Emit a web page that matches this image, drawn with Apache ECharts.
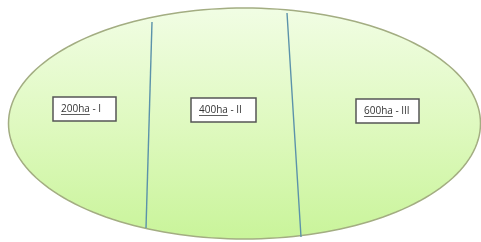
<html>
<head>
    <meta http-equiv="content-type" content="text/html; charset=utf-8">
    <title>Field plots</title>
    <script src="https://cdn.jsdelivr.net/npm/echarts@6/dist/echarts.min.js"></script>
    <style>
        html, body { margin: 0; padding: 0; background: #fff; }
        #chart { width: 481px; height: 242px; }
    </style>
</head>
<body>
    <div id="chart"></div>
    <script type="text/javascript">
        // field outline (page units, y downwards)
        var fieldCenter = [244.5, 123.5];
        var fieldRadius = [236, 115.5];

        // the two boundary lines between the plots
        var dividerTop = [[152, 22], [287, 13]];
        var dividerBottom = [[146, 228], [301, 237]];

        // plot labels
        var areas = ['200ha', '400ha', '600ha'];
        var plotNames = ['I', 'II', 'III'];
        var boxTopLeft = [[53, 97], [191, 98], [356, 99]];
        var boxBottomRight = [[116, 121], [256, 122], [419, 123]];

        var FONT = '10px "Open Sans", sans-serif';
        var ctx = document.createElement('canvas').getContext('2d');
        ctx.font = FONT;

        var chart = echarts.init(document.getElementById('chart'));

        var dividerSeries = dividerTop.map(function (p, i) {
            return {
                type: 'line',
                data: [p, dividerBottom[i]],
                symbol: 'none',
                silent: true,
                z: 3,
                lineStyle: { color: '#5b92aa', width: 1.4 }
            };
        });

        chart.setOption({
            animation: false,
            grid: { left: 0, right: 0, top: 0, bottom: 0 },
            xAxis: { type: 'value', min: 0, max: 481, show: false },
            yAxis: { type: 'value', min: 0, max: 242, inverse: true, show: false },
            series: [{
                type: 'custom',
                z: 1,
                silent: true,
                data: [[fieldCenter[0], fieldCenter[1], fieldRadius[0], fieldRadius[1]]],
                renderItem: function (params, api) {
                    var pts = [];
                    for (var k = 0; k < 180; k++) {
                        var a = k / 180 * Math.PI * 2;
                        pts.push(api.coord([api.value(0) + api.value(2) * Math.cos(a),
                                            api.value(1) + api.value(3) * Math.sin(a)]));
                    }
                    return {
                        type: 'polygon',
                        shape: { points: pts },
                        style: {
                            fill: new echarts.graphic.LinearGradient(0, 0, 0, 1, [
                                { offset: 0, color: '#f1fde4' },
                                { offset: 0.5, color: '#dff9c0' },
                                { offset: 1, color: '#c9f49a' }
                            ]),
                            stroke: '#a3ad82',
                            lineWidth: 1.5
                        }
                    };
                }
            }].concat(dividerSeries).concat([{
                type: 'custom',
                z: 5,
                silent: true,
                data: areas.map(function (a, i) {
                    return [boxTopLeft[i][0], boxTopLeft[i][1], boxBottomRight[i][0], boxBottomRight[i][1]];
                }),
                renderItem: function (params, api) {
                    var i = params.dataIndex;
                    var p0 = api.coord([api.value(0), api.value(1)]);
                    var p1 = api.coord([api.value(2), api.value(3)]);
                    var main = areas[i];
                    var txt = main + ' - ' + plotNames[i];
                    var wMain = ctx.measureText(main).width;
                    var x0 = p0[0] + 8;
                    var yc = (p0[1] + p1[1]) / 2;
                    return {
                        type: 'group',
                        children: [{
                            type: 'rect',
                            shape: { x: p0[0], y: p0[1], width: p1[0] - p0[0], height: p1[1] - p0[1] },
                            style: { fill: '#fff', stroke: '#555', lineWidth: 1.5 }
                        }, {
                            type: 'text',
                            style: {
                                x: x0, y: yc, text: txt, font: FONT,
                                fill: '#333', verticalAlign: 'middle'
                            }
                        }, {
                            type: 'line',
                            shape: { x1: x0, y1: yc + 5.5, x2: x0 + wMain, y2: yc + 5.5 },
                            style: { stroke: '#333', lineWidth: 0.8 }
                        }]
                    };
                }
            }])
        });
    </script>
</body>
</html>
